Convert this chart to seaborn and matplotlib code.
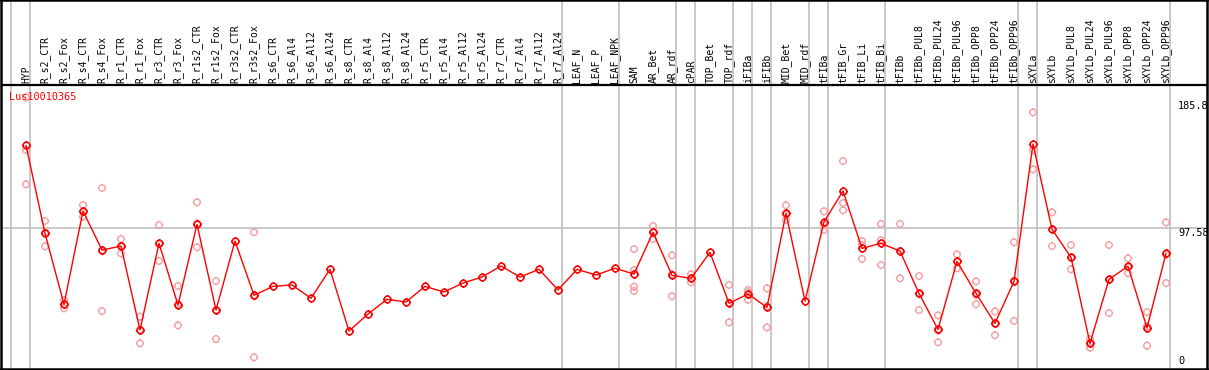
import numpy as np
import pandas as pd
import matplotlib
matplotlib.use("Agg")
import matplotlib.pyplot as plt
from matplotlib.path import Path
import seaborn as sns

title = "Lus10010365"

samples = ["HYP", "R_s2_CTR", "R_s2_Fox", "R_s4_CTR", "R_s4_Fox", "R_r1_CTR", "R_r1_Fox",
           "R_r3_CTR", "R_r3_Fox", "R_r1s2_CTR", "R_r1s2_Fox", "R_r3s2_CTR", "R_r3s2_Fox",
           "R_s6_CTR", "R_s6_Al4", "R_s6_Al12", "R_s6_Al24", "R_s8_CTR", "R_s8_Al4",
           "R_s8_Al12", "R_s8_Al24", "R_r5_CTR", "R_r5_Al4", "R_r5_Al12", "R_r5_Al24",
           "R_r7_CTR", "R_r7_Al4", "R_r7_Al12", "R_r7_Al24", "LEAF_N", "LEAF_P", "LEAF_NPK",
           "SAM", "AR_Bet", "AR_rdf", "cPAR", "TOP_Bet", "TOP_rdf", "iFIBa", "iFIBb",
           "MID_Bet", "MID_rdf", "tFIBa", "tFIB_Gr", "tFIB_Li", "tFIB_Bi", "tFIBb",
           "tFIBb_PUL8", "tFIBb_PUL24", "tFIBb_PUL96", "tFIBb_OPP8", "tFIBb_OPP24",
           "tFIBb_OPP96", "sXYLa", "sXYLb", "sXYLb_PUL8", "sXYLb_PUL24", "sXYLb_PUL96",
           "sXYLb_OPP8", "sXYLb_OPP24", "sXYLb_OPP96"]

means = [155.2, 93.9, 44.4, 109.4, 82.2, 85.0, 26.5, 86.9, 43.9, 100.1, 40.4, 88.5, 50.7,
         56.9, 57.9, 48.6, 68.8, 25.8, 37.6, 47.9, 46.0, 56.9, 53.0, 59.2, 63.4,
         71.1, 63.4, 68.8, 54.4, 68.8, 64.8, 69.5,
         65.5, 94.6, 64.6, 62.5, 80.6, 45.1, 51.6, 42.3,
         107.8, 46.7, 101.8, 123.4, 83.4, 86.9, 81.5,
         52.0, 26.9, 74.3, 52.0, 31.1, 60.4,
         156.1, 96.7, 77.1, 17.2, 61.8, 70.9, 27.9, 79.9]

rep_samples = (["HYP"] * 3 + ["R_s2_CTR"] * 3 + ["R_s2_Fox"] * 3 + ["R_s4_CTR"] * 3 +
               ["R_s4_Fox"] * 3 + ["R_r1_CTR"] * 3 + ["R_r1_Fox"] * 3 + ["R_r3_CTR"] * 3 +
               ["R_r3_Fox"] * 3 + ["R_r1s2_CTR"] * 3 + ["R_r1s2_Fox"] * 3 + ["R_r3s2_Fox"] * 3 +
               ["SAM"] * 4 + ["AR_Bet"] * 3 + ["AR_rdf"] * 3 + ["cPAR"] * 3 + ["TOP_rdf"] * 3 +
               ["iFIBa"] * 3 + ["iFIBb"] * 3 + ["MID_Bet"] * 3 + ["tFIBa"] * 3 +
               ["tFIB_Gr"] * 3 + ["tFIB_Li"] * 3 + ["tFIB_Bi"] * 3 + ["tFIBb"] * 3 +
               ["tFIBb_PUL8"] * 3 + ["tFIBb_PUL24"] * 3 + ["tFIBb_PUL96"] * 3 +
               ["tFIBb_OPP8"] * 3 + ["tFIBb_OPP24"] * 3 + ["tFIBb_OPP96"] * 3 +
               ["sXYLa"] * 3 + ["sXYLb"] * 3 + ["sXYLb_PUL8"] * 3 + ["sXYLb_PUL24"] * 3 +
               ["sXYLb_PUL96"] * 3 + ["sXYLb_OPP8"] * 3 + ["sXYLb_OPP24"] * 3 +
               ["sXYLb_OPP96"] * 3)

rep_values = [188.7, 151.9, 128.0,
              102.5, 94.4, 84.8,
              47.4, 44.2, 41.6,
              113.6, 109.0, 105.5,
              125.5, 81.4, 39.7,
              89.9, 85.2, 79.9,
              35.8, 26.5, 17.2,
              99.7, 86.4, 74.6,
              57.2, 44.8, 29.7,
              115.5, 100.7, 84.1,
              60.6, 40.4, 20.2,
              94.6, 50.0, 7.4,
              82.9, 68.3, 56.7, 53.7,
              99.0, 94.9, 89.9,
              78.5, 65.3, 50.0,
              65.3, 62.5, 59.7,
              57.9, 45.6, 31.8,
              54.4, 52.8, 47.6,
              55.5, 43.0, 28.3,
              113.4, 106.8, 103.2,
              109.2, 100.0, 96.2,
              144.3, 115.0, 109.9,
              88.5, 85.7, 76.0,
              100.4, 89.2, 71.8,
              100.4, 81.6, 62.5,
              64.1, 51.5, 40.4,
              36.7, 26.0, 17.9,
              79.2, 74.0, 69.5,
              60.4, 51.0, 44.4,
              39.5, 31.0, 22.8,
              87.6, 60.8, 32.8,
              178.2, 151.9, 138.5,
              108.5, 96.6, 85.0,
              85.7, 76.8, 68.8,
              20.0, 17.5, 14.2,
              85.7, 61.4, 38.3,
              76.4, 70.3, 66.0,
              39.0, 29.0, 15.6,
              101.5, 79.0, 59.2]

# group boundaries: a separator follows these samples (plus one before the first)
group_ends = ["HYP", "R_r7_Al24", "LEAF_NPK", "AR_rdf", "cPAR", "TOP_rdf", "iFIBa", "iFIBb",
              "MID_rdf", "tFIBa", "tFIB_Bi", "tFIBb_OPP96", "sXYLa", "sXYLb_OPP96"]

y_ticks = [185.8, 97.58, 0]
y_tick_labels = ["185.8", "97.58", "0"]

# ---------------------------------------------------------------
pos = {s: i for i, s in enumerate(samples)}
df_mean = pd.DataFrame({"x": np.arange(len(samples)), "value": means, "sample": samples})
df_rep = pd.DataFrame({"x": [pos[s] for s in rep_samples], "value": rep_values})

sns.set_style("white")
plt.rcParams["font.family"] = ["DejaVu Sans Mono", "DejaVu Sans"]

W, H = 1209, 370
fig = plt.figure(figsize=(W / 100, H / 100), dpi=100)
ax = fig.add_axes([1 / W, 1 / H, 1206 / W, 369 / H])

px_per_x = 19.0
px_per_y = 1.4347
xmin = -25 / px_per_x
xmax = xmin + 1206 / px_per_x
ymin = -1 / px_per_y
ymax = ymin + 369 / px_per_y
ax.set_xlim(xmin, xmax)
ax.set_ylim(ymin, ymax)

# custom marker: circle with four small ticks
circ = Path.unit_circle()
ticks = []
for dx, dy in [(0, 1), (0, -1), (1, 0), (-1, 0)]:
    ticks.append(Path([[dx * 1.0, dy * 1.0], [dx * 1.3, dy * 1.3]], [Path.MOVETO, Path.LINETO]))
marker_path = Path.make_compound_path(circ, *ticks)

grid_c = "#c0c0c0"
# separators
ax.axvline(-1 + 0.2, color=grid_c, lw=1.2, zorder=1)
for s in group_ends:
    ax.axvline(pos[s] + 0.23, color=grid_c, lw=1.2, zorder=1)
ax.axhline(y_ticks[1], color=grid_c, lw=1.2, zorder=1)

sns.scatterplot(data=df_rep, x="x", y="value", ax=ax, marker=marker_path, s=36,
                facecolors="none", edgecolor="#f4a0a0", color="#f4a0a0",
                linewidths=1.0, zorder=2, legend=False)
sns.lineplot(data=df_mean, x="x", y="value", ax=ax, color="#ff0000", lw=1.0,
             marker=marker_path, markersize=6.2, markerfacecolor="none",
             markeredgecolor="#ff0000", markeredgewidth=1.15, zorder=3, legend=False)

# label separator line
label_line_y = (368 - 85) / px_per_y
ax.axhline(label_line_y, color="black", lw=1.6, zorder=4)

for i, s in enumerate(samples):
    ax.text(i, (368 - 83) / px_per_y, s, rotation=90, ha="center", va="bottom",
            fontsize=7, color="black", zorder=5)

ax.text(xmin + 8 / px_per_x, (368 - 97) / px_per_y, title, color="#ff0000",
        fontsize=7.3, ha="left", va="center", zorder=5)

xr = xmin + 1177 / px_per_x
ax.text(xr, y_ticks[0], y_tick_labels[0], fontsize=7.4, ha="left", va="top", color="black")
ax.text(xr, y_ticks[1], y_tick_labels[1], fontsize=7.4, ha="left", va="top", color="black")
ax.text(xr, y_ticks[2] + 1.5, y_tick_labels[2], fontsize=7.4, ha="left", va="bottom", color="black")

ax.set_xticks([])
ax.set_yticks([])
ax.set_xlabel("")
ax.set_ylabel("")
for sp in ax.spines.values():
    sp.set_color("black")
    sp.set_linewidth(1.8)

fig.savefig("out.png", dpi=100)
